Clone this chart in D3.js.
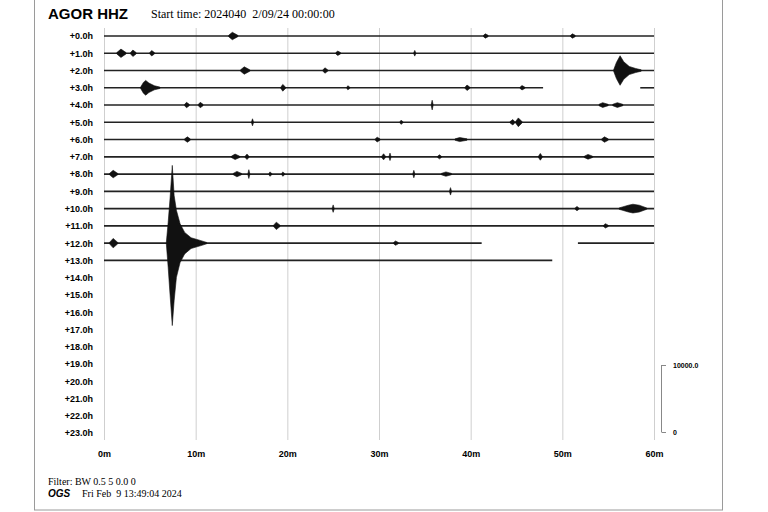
<!DOCTYPE html>
<html>
<head>
<meta charset="utf-8">
<script src="https://cdn.jsdelivr.net/npm/d3@7"></script>
<style>
  body { margin: 0; background: #fff; }
  svg { display: block; }
  .lbl { font-family: "Liberation Sans", Arial, sans-serif; font-weight: bold; }
  .ser { font-family: "Liberation Serif", "Times New Roman", serif; }
</style>
</head>
<body>
<svg id="heli"></svg>
<script>
// hours shown on the left, minutes along the bottom
var hours = d3.range(0, 24);
var minuteTicks = [0, 10, 20, 30, 40, 50, 60];

// which parts of each hour have data [start min, end min]
var traceSpans = [
  [0, [[0, 60]]], [1, [[0, 60]]], [2, [[0, 60]]],
  [3, [[0, 47.9], [58.5, 60]]],
  [4, [[0, 60]]], [5, [[0, 60]]], [6, [[0, 60]]], [7, [[0, 60]]],
  [8, [[0, 60]]], [9, [[0, 60]]], [10, [[0, 60]]], [11, [[0, 60]]],
  [12, [[0, 41.2], [51.7, 60]]],
  [13, [[0, 48.9]]]
];

// event envelopes: [hour, [[minute, up counts, down counts], ...]]
var events = [
  [0, [[13.6, 0], [14.0, 450], [14.6, 0]]],
  [0, [[41.4, 0], [41.6, 220], [41.9, 0]]],
  [0, [[50.9, 0], [51.1, 220], [51.4, 0]]],
  [1, [[1.4, 0], [1.85, 520], [2.4, 0]]],
  [1, [[2.9, 0], [3.15, 380], [3.5, 0]]],
  [1, [[5.0, 0], [5.2, 300], [5.5, 0]]],
  [1, [[25.3, 0], [25.5, 220], [25.8, 0]]],
  [1, [[33.8, 0], [33.9, 320], [34.0, 0]]],
  [2, [[14.9, 0], [15.3, 450], [15.9, 0]]],
  [2, [[23.9, 0], [24.1, 300], [24.4, 0]]],
  [2, [[55.6, 0], [55.9, 1100], [56.3, 2100], [56.7, 1200], [57.3, 500], [58.0, 200], [58.6, 0]]],
  [3, [[4.0, 0], [4.3, 700], [4.55, 1000], [4.9, 600], [5.5, 200], [6.1, 0]]],
  [3, [[19.3, 0], [19.5, 400], [19.8, 0]]],
  [3, [[26.5, 0], [26.6, 200], [26.8, 0]]],
  [3, [[39.4, 0], [39.6, 300], [39.9, 0]]],
  [3, [[45.4, 0], [45.6, 220], [45.9, 0]]],
  [4, [[8.8, 0], [9.0, 300], [9.3, 0]]],
  [4, [[10.3, 0], [10.5, 300], [10.8, 0]]],
  [4, [[35.7, 0], [35.8, 620], [35.9, 0]]],
  [4, [[54.0, 0], [54.4, 250], [55.0, 0]]],
  [4, [[55.5, 0], [56.0, 250], [56.6, 0]]],
  [5, [[16.1, 0], [16.2, 420], [16.3, 0]]],
  [5, [[32.3, 0], [32.4, 200], [32.6, 0]]],
  [5, [[44.3, 0], [44.6, 300], [44.8, 0]]],
  [5, [[44.9, 0], [45.2, 550], [45.6, 0]]],
  [6, [[8.8, 0], [9.1, 300], [9.4, 0]]],
  [6, [[29.6, 0], [29.8, 250], [30.1, 0]]],
  [6, [[38.3, 0], [38.8, 200], [39.6, 0]]],
  [6, [[54.3, 0], [54.6, 300], [55.0, 0]]],
  [7, [[13.9, 0], [14.3, 300], [14.8, 0]]],
  [7, [[15.4, 0], [15.6, 300], [15.8, 0]]],
  [7, [[30.3, 0], [30.5, 350], [30.7, 0]]],
  [7, [[31.1, 0], [31.2, 450], [31.3, 0]]],
  [7, [[36.4, 0], [36.6, 200], [36.8, 0]]],
  [7, [[47.4, 0], [47.6, 400], [47.8, 0]]],
  [7, [[52.4, 0], [52.8, 250], [53.3, 0]]],
  [8, [[0.6, 0], [1.0, 450], [1.5, 0]]],
  [8, [[14.1, 0], [14.5, 300], [15.0, 0]]],
  [8, [[15.7, 0], [15.8, 550], [15.9, 0]]],
  [8, [[18.0, 0], [18.1, 220], [18.3, 0]]],
  [8, [[19.4, 0], [19.5, 220], [19.7, 0]]],
  [8, [[33.7, 0], [33.8, 450], [33.9, 0]]],
  [8, [[36.8, 0], [37.3, 220], [37.9, 0]]],
  [9, [[37.7, 0], [37.8, 450], [37.9, 0]]],
  [10, [[24.9, 0], [25.0, 450], [25.1, 0]]],
  [10, [[51.4, 0], [51.6, 220], [51.8, 0]]],
  [10, [[56.2, 0], [57.2, 400], [57.7, 550], [58.4, 400], [59.2, 0]]],
  [11, [[18.5, 0], [18.8, 450], [19.2, 0]]],
  [11, [[54.5, 0], [54.7, 220], [55.0, 0]]],
  [12, [[0.6, 0], [1.0, 600], [1.5, 0]]],
  [12, [[31.6, 0], [31.8, 220], [32.1, 0]]],
  // the big one
  [12, [[6.8, 0, 0], [7.0, 3000, 3500], [7.2, 6500, 7500], [7.45, 11500, 12200],
        [7.65, 7000, 8500], [7.9, 4800, 5000], [8.3, 2800, 2800], [8.8, 1500, 1500],
        [9.5, 700, 700], [10.5, 300, 300], [11.2, 0, 0]]]
];

var scaleBarLabels = ["10000.0", "0"];
var scaleBarValues = [10000, 0];

var screen = { width: 768, height: 512 };
var svg = d3.select("#heli").attr("width", screen.width).attr("height", screen.height);

// frame
svg.append("rect")
  .attr("x", 34.5).attr("y", -2)
  .attr("width", 688).attr("height", 512)
  .attr("fill", "none").attr("stroke", "#9a9a9a").attr("stroke-width", 1);

var xScale = d3.scaleLinear().domain([0, 60]).range([104, 654]);
var yScale = d3.scaleLinear().domain([0, 23]).range([36, 433]);
// counts -> pixels (10000 counts = 67px)
var ampScale = d3.scaleLinear().domain([0, 10000]).range([0, 67]);

// minute gridlines + labels
var xAxis = d3.axisBottom(xScale)
  .tickValues(minuteTicks)
  .tickSize(-412)
  .tickPadding(11)
  .tickFormat(function (d) { return d + "m"; });

var xg = svg.append("g")
  .attr("transform", "translate(0,440)")
  .call(xAxis);
xg.select(".domain").remove();
xg.selectAll("line").attr("stroke", "#cfcfcf");
xg.selectAll("text").classed("lbl", true).attr("font-size", 9).attr("fill", "#000");

// hour labels
var yAxis = d3.axisLeft(yScale)
  .tickValues(hours)
  .tickSize(0)
  .tickPadding(11)
  .tickFormat(function (d) { return "+" + d.toFixed(1) + "h"; });
var yg = svg.append("g")
  .attr("transform", "translate(104,0)")
  .call(yAxis);
yg.select(".domain").remove();
yg.selectAll("text").classed("lbl", true).attr("font-size", 9).attr("fill", "#000");

// baselines
var traces = svg.append("g").classed("traces", true);
traceSpans.forEach(function (row) {
  row[1].forEach(function (span) {
    traces.append("line")
      .attr("x1", xScale(span[0])).attr("x2", xScale(span[1]))
      .attr("y1", yScale(row[0])).attr("y2", yScale(row[0]))
      .attr("stroke", "#222").attr("stroke-width", 1.6);
  });
});

// events as filled envelopes
var area = d3.area()
  .x(function (p) { return xScale(p.t); })
  .y0(function (p) { return yScale(p.row) + ampScale(p.down) + 0.7; })
  .y1(function (p) { return yScale(p.row) - ampScale(p.up) - 0.7; })
  .curve(d3.curveLinear);

events.forEach(function (ev) {
  var pts = ev[1].map(function (p) {
    return { row: ev[0], t: p[0], up: p[1], down: p.length > 2 ? p[2] : p[1] };
  });
  traces.append("path")
    .datum(pts)
    .attr("d", area)
    .attr("fill", "#111")
    .attr("stroke", "#111")
    .attr("stroke-width", 0.6);
});

// amplitude scale bar
var barY = d3.scaleLinear().domain([0, 10000]).range([432, 432 - ampScale(10000)]);
var bar = svg.append("g").classed("scalebar", true);
bar.append("line")
  .attr("x1", 661.5).attr("x2", 661.5)
  .attr("y1", barY(0)).attr("y2", barY(10000))
  .attr("stroke", "#888");
scaleBarValues.forEach(function (v, i) {
  bar.append("line")
    .attr("x1", 661.5).attr("x2", 666)
    .attr("y1", barY(v) + 0.5).attr("y2", barY(v) + 0.5)
    .attr("stroke", "#888");
  bar.append("text")
    .classed("lbl", true)
    .attr("x", 673).attr("y", barY(v) + 2.5)
    .attr("font-size", 7)
    .text(scaleBarLabels[i]);
});

// title
svg.append("text").classed("lbl", true)
  .attr("x", 48).attr("y", 19)
  .attr("font-size", 15)
  .text("AGOR HHZ");
svg.append("text").classed("ser", true)
  .attr("x", 151).attr("y", 18)
  .attr("font-size", 12)
  .style("white-space", "pre")
  .text("Start time: 2024040  2/09/24 00:00:00");

// footer
svg.append("text").classed("ser", true)
  .attr("x", 48).attr("y", 484.5)
  .attr("font-size", 10)
  .text("Filter: BW 0.5 5 0.0 0");
svg.append("text").classed("lbl", true)
  .attr("x", 48).attr("y", 497)
  .attr("font-size", 10)
  .attr("font-style", "italic")
  .text("OGS");
svg.append("text").classed("ser", true)
  .attr("x", 82).attr("y", 497)
  .attr("font-size", 10)
  .style("white-space", "pre")
  .text("Fri Feb  9 13:49:04 2024");
</script>
</body>
</html>
